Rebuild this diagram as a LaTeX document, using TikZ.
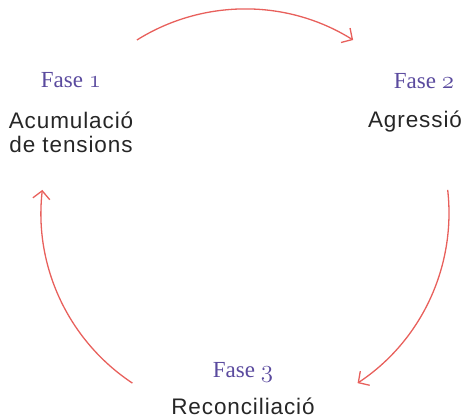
\documentclass[tikz,border=0pt]{standalone}
\usepackage{fontspec}
\setsansfont[LetterSpace=4]{Liberation Sans}
\setmainfont{Liberation Serif}
\usetikzlibrary{arrows.meta}
\definecolor{arccol}{HTML}{E8605C}
\definecolor{fasecol}{HTML}{5A4A9E}
\newcommand{\osnum}[1]{{\usefont{OML}{lmm}{b}{it}#1}}
\begin{document}
\begin{tikzpicture}[x=1pt,y=-1pt,
  fasetxt/.style={font=\fontsize{23}{26}\selectfont\rmfamily, text=fasecol, anchor=base, inner sep=0pt},
  lbl/.style={font=\fontsize{22.5}{24}\selectfont\sffamily, text=black!85, align=center, anchor=base, inner sep=0pt, text depth=0pt},
  conn/.style={draw=arccol, line width=1.3pt, -{Straight Barb[length=8pt,width=17pt,line width=1.3pt]}}]
\useasboundingbox (0,0) rectangle (466,418);
\node[fasetxt] (f1) at (71,87) {Fase \osnum{1}};
\node[lbl] (l1) at (71,152) {Acumulació\\de tensions};
\node[fasetxt] (f2) at (424,88) {Fase \osnum{2}};
\node[lbl] (l2) at (415,127) {Agressió};
\node[fasetxt] (f3) at (243,377) {Fase \osnum{3}};
\node[lbl] (l3) at (243,414.5) {Reconciliació};
\coordinate (c) at (245,213);
\coordinate (a1) at ([shift={(-122:204)}]c);
\coordinate (a2) at ([shift={(-6.5:204)}]c);
\coordinate (a3) at ([shift={(-236.5:204)}]c);
\draw[conn] (a1) arc[start angle=-122, end angle=-58, radius=204];
\draw[conn] (a2) arc[start angle=-6.5, end angle=56.5, radius=204];
\draw[conn] (a3) arc[start angle=-236.5, end angle=-173.5, radius=204];
\end{tikzpicture}
\end{document}
